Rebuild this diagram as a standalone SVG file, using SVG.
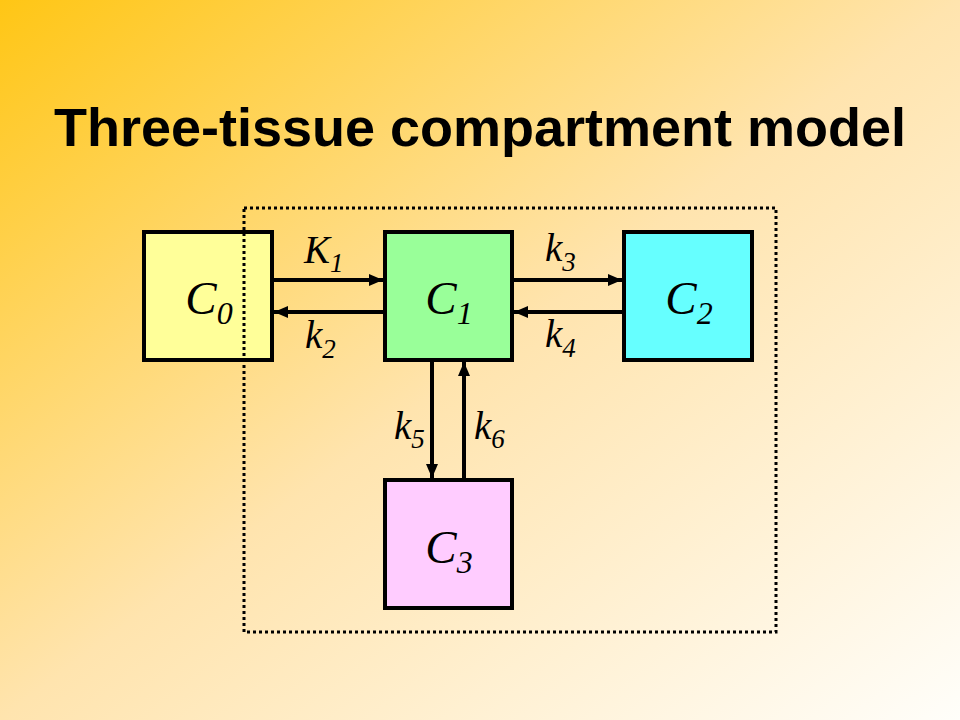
<svg xmlns="http://www.w3.org/2000/svg" width="960" height="720" viewBox="0 0 960 720">
<defs>
<linearGradient id="bg" x1="0" y1="0" x2="1" y2="1">
<stop offset="0" stop-color="#FFC615"/>
<stop offset="0.5" stop-color="#FFE4AE"/>
<stop offset="1" stop-color="#FFFEFA"/>
</linearGradient>
<marker id="ah" markerUnits="userSpaceOnUse" markerWidth="15" markerHeight="14" refX="14" refY="7" orient="auto">
<path d="M0,1 L14,7 L0,13 Z" fill="#000"/>
</marker>
<style>
.box{stroke:#000;stroke-width:4}
.lbl{font-family:"Liberation Serif","Times New Roman",serif;font-style:italic;fill:#000}
.node{font-size:47px}
.rate{font-size:39px}
.con{stroke:#000;stroke-width:4;fill:none;marker-end:url(#ah)}
.title{font-family:"Liberation Sans",Arial,sans-serif;font-weight:bold;font-size:54px;fill:#000}
</style>
</defs>
<rect width="960" height="720" fill="url(#bg)"/>
<text class="title" x="480" y="146" text-anchor="middle">Three-tissue compartment model</text>
<g id="C0">
<rect class="box" x="144" y="232" width="128" height="128" fill="#FFFF99"/>
<text class="lbl node" x="209" y="314" text-anchor="middle">C<tspan font-size="32" dy="10">0</tspan></text>
</g>
<g id="C1">
<rect class="box" x="385" y="232" width="127" height="128" fill="#99FF99"/>
<text class="lbl node" x="449" y="314" text-anchor="middle">C<tspan font-size="32" dy="10">1</tspan></text>
</g>
<g id="C2">
<rect class="box" x="624" y="232" width="128" height="128" fill="#66FFFF"/>
<text class="lbl node" x="689" y="314" text-anchor="middle">C<tspan font-size="32" dy="10">2</tspan></text>
</g>
<g id="C3">
<rect class="box" x="385" y="480" width="127" height="128" fill="#FFCCFF"/>
<text class="lbl node" x="449" y="563" text-anchor="middle">C<tspan font-size="32" dy="10">3</tspan></text>
</g>
<g id="connectors">
<line class="con" x1="274" y1="280" x2="383" y2="280"/>
<line class="con" x1="383" y1="312" x2="274" y2="312"/>
<line class="con" x1="514" y1="280" x2="622" y2="280"/>
<line class="con" x1="622" y1="312" x2="514" y2="312"/>
<line class="con" x1="432" y1="362" x2="432" y2="478"/>
<line class="con" x1="464" y1="478" x2="464" y2="362"/>
</g>
<g id="labels">
<text class="lbl rate" x="304" y="263">K<tspan font-size="27" dy="9">1</tspan></text>
<text class="lbl rate" x="305" y="348">k<tspan font-size="27" dy="10">2</tspan></text>
<text class="lbl rate" x="545" y="261">k<tspan font-size="27" dy="10">3</tspan></text>
<text class="lbl rate" x="545" y="347">k<tspan font-size="27" dy="10">4</tspan></text>
<text class="lbl rate" x="394" y="439">k<tspan font-size="27" dy="9">5</tspan></text>
<text class="lbl rate" x="474" y="439">k<tspan font-size="27" dy="9">6</tspan></text>
</g>
<g id="boundary">
<rect x="244" y="208" width="532" height="424" fill="none" stroke="#000" stroke-width="3" stroke-dasharray="3,3"/>
</g>
</svg>
